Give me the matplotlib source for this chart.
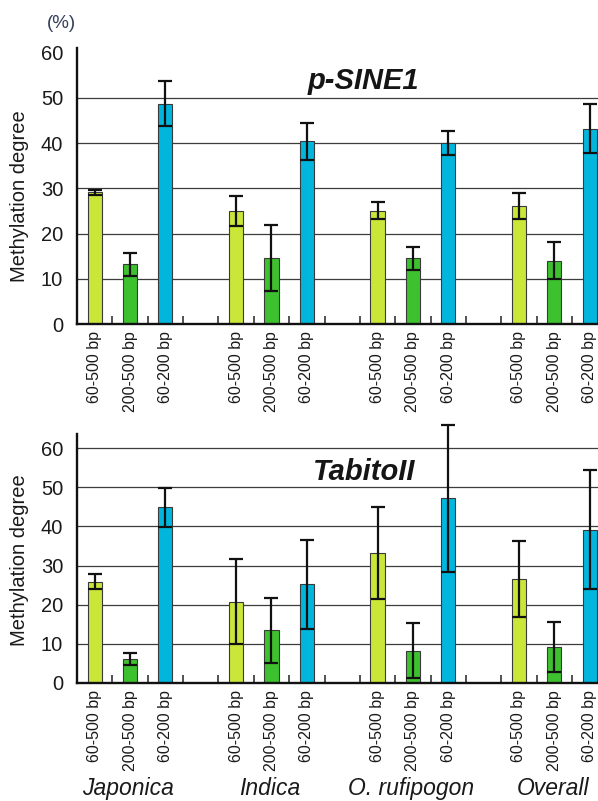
import numpy as np
import matplotlib
matplotlib.use("Agg")
import matplotlib.pyplot as plt
import matplotlib.transforms as mtransforms

plt.rcParams['font.family'] = ['Liberation Sans', 'DejaVu Sans']

# ---------------- data ----------------
groups = ['Japonica', 'Indica', 'O. rufipogon', 'Overall']
sizes = ['60-500 bp', '200-500 bp', '60-200 bp']
size_colors = ['#c9e639', '#3ec12f', '#00b6dd']

psine_mean = [[29.1, 13.2, 48.7],
              [25.0, 14.5, 40.4],
              [25.0, 14.5, 40.0],
              [26.1, 14.0, 43.2]]
psine_err = [[0.5, 2.6, 5.0],
             [3.4, 7.3, 4.1],
             [1.9, 2.6, 2.6],
             [2.8, 4.1, 5.4]]

tabito_mean = [[25.9, 6.2, 44.9],
               [20.8, 13.5, 25.2],
               [33.2, 8.3, 47.2],
               [26.5, 9.2, 39.1]]
tabito_err = [[1.9, 1.5, 5.0],
              [10.9, 8.3, 11.3],
              [11.7, 7.0, 18.8],
              [9.7, 6.4, 15.2]]

yticks = [0, 10, 20, 30, 40, 50, 60]

# ---------------- figure ----------------
W, H = 598, 801
fig = plt.figure(figsize=(W / 100, H / 100), dpi=100)

slot = 35.36
n_slots = len(groups) * (len(sizes) + 1) - 1
ax_w = (n_slots + 1) * slot / W
left = 77 / W
ax1 = fig.add_axes([left, 1 - 324 / H, ax_w, 276 / H])
ax2 = fig.add_axes([left, 1 - 683 / H, ax_w, 249 / H])

text_col = '#1a1a1a'


def draw_panel(ax, means, errs, ymax, grid_vals, title, title_y, ylab_y):
    xs, labels = [], []
    for g in range(len(groups)):
        for s in range(len(sizes)):
            x = g * (len(sizes) + 1) + s
            xs.append(x)
            labels.append(sizes[s])
            ax.bar(x, means[g][s], width=0.40, color=size_colors[s],
                   edgecolor='#3a3a3a', linewidth=0.8, zorder=3)
            cont = ax.errorbar(x, means[g][s], yerr=errs[g][s], fmt='none',
                               ecolor='#111111', elinewidth=1.6, capsize=5,
                               capthick=1.6, zorder=4)
            for child in cont.get_children():
                child.set_clip_on(False)
    for v in grid_vals:
        ax.axhline(v, color='#3c3c3c', linewidth=0.9, zorder=1)
    ax.set_xlim(-0.5, n_slots + 0.5)
    ax.set_ylim(0, ymax)
    ax.set_yticks(yticks)
    ax.set_yticklabels([str(v) for v in yticks], fontsize=14.5, color=text_col)
    ax.tick_params(axis='y', length=0, pad=10)
    ax.set_xticks(xs)
    ax.set_xticklabels(labels, rotation=90, fontsize=11.5, color=text_col,
                       ha='center', va='top')
    ax.tick_params(axis='x', which='major', length=0, pad=5)
    ax.set_xticks(np.arange(0.5, n_slots, 1.0), minor=True)
    ax.tick_params(axis='x', which='minor', direction='in', length=6,
                   width=1.1, color='#222222')
    for sp in ['top', 'right']:
        ax.spines[sp].set_visible(False)
    for sp in ['left', 'bottom']:
        ax.spines[sp].set_linewidth(1.7)
        ax.spines[sp].set_color('#111111')
        ax.spines[sp].set_zorder(5)
    ax.set_ylabel('Methylation degree', fontsize=14.5, color=text_col)
    ax.yaxis.set_label_coords(-0.085, ylab_y)
    ax.text(0.507, title_y, title, transform=ax.transAxes, ha='center',
            va='baseline', fontsize=21, fontweight='bold', fontstyle='italic',
            color='#151515', zorder=6)
    return xs


draw_panel(ax1, psine_mean, psine_err, 61, [10, 20, 30, 40, 50],
           'p-SINE1', 0.851, 0.464)
draw_panel(ax2, tabito_mean, tabito_err, 63.6, [10, 20, 30, 40, 50, 60],
           'TabitoII', 0.815, 0.494)

# (%) unit label
fig.text(61 / W, 1 - 24 / H, '(%)', fontsize=13.5, color='#34405e',
         ha='center', va='center')

# group labels under bottom panel
trans = mtransforms.blended_transform_factory(ax2.transData, ax2.transAxes)
for g, name in enumerate(groups):
    xc = g * (len(sizes) + 1) + 1 - 0.05
    ax2.text(xc, -(795 - 683) / 249, name, transform=trans, ha='center',
             va='baseline', fontsize=16.5, fontstyle='italic', color=text_col)

fig.savefig('out.png', dpi=100)
